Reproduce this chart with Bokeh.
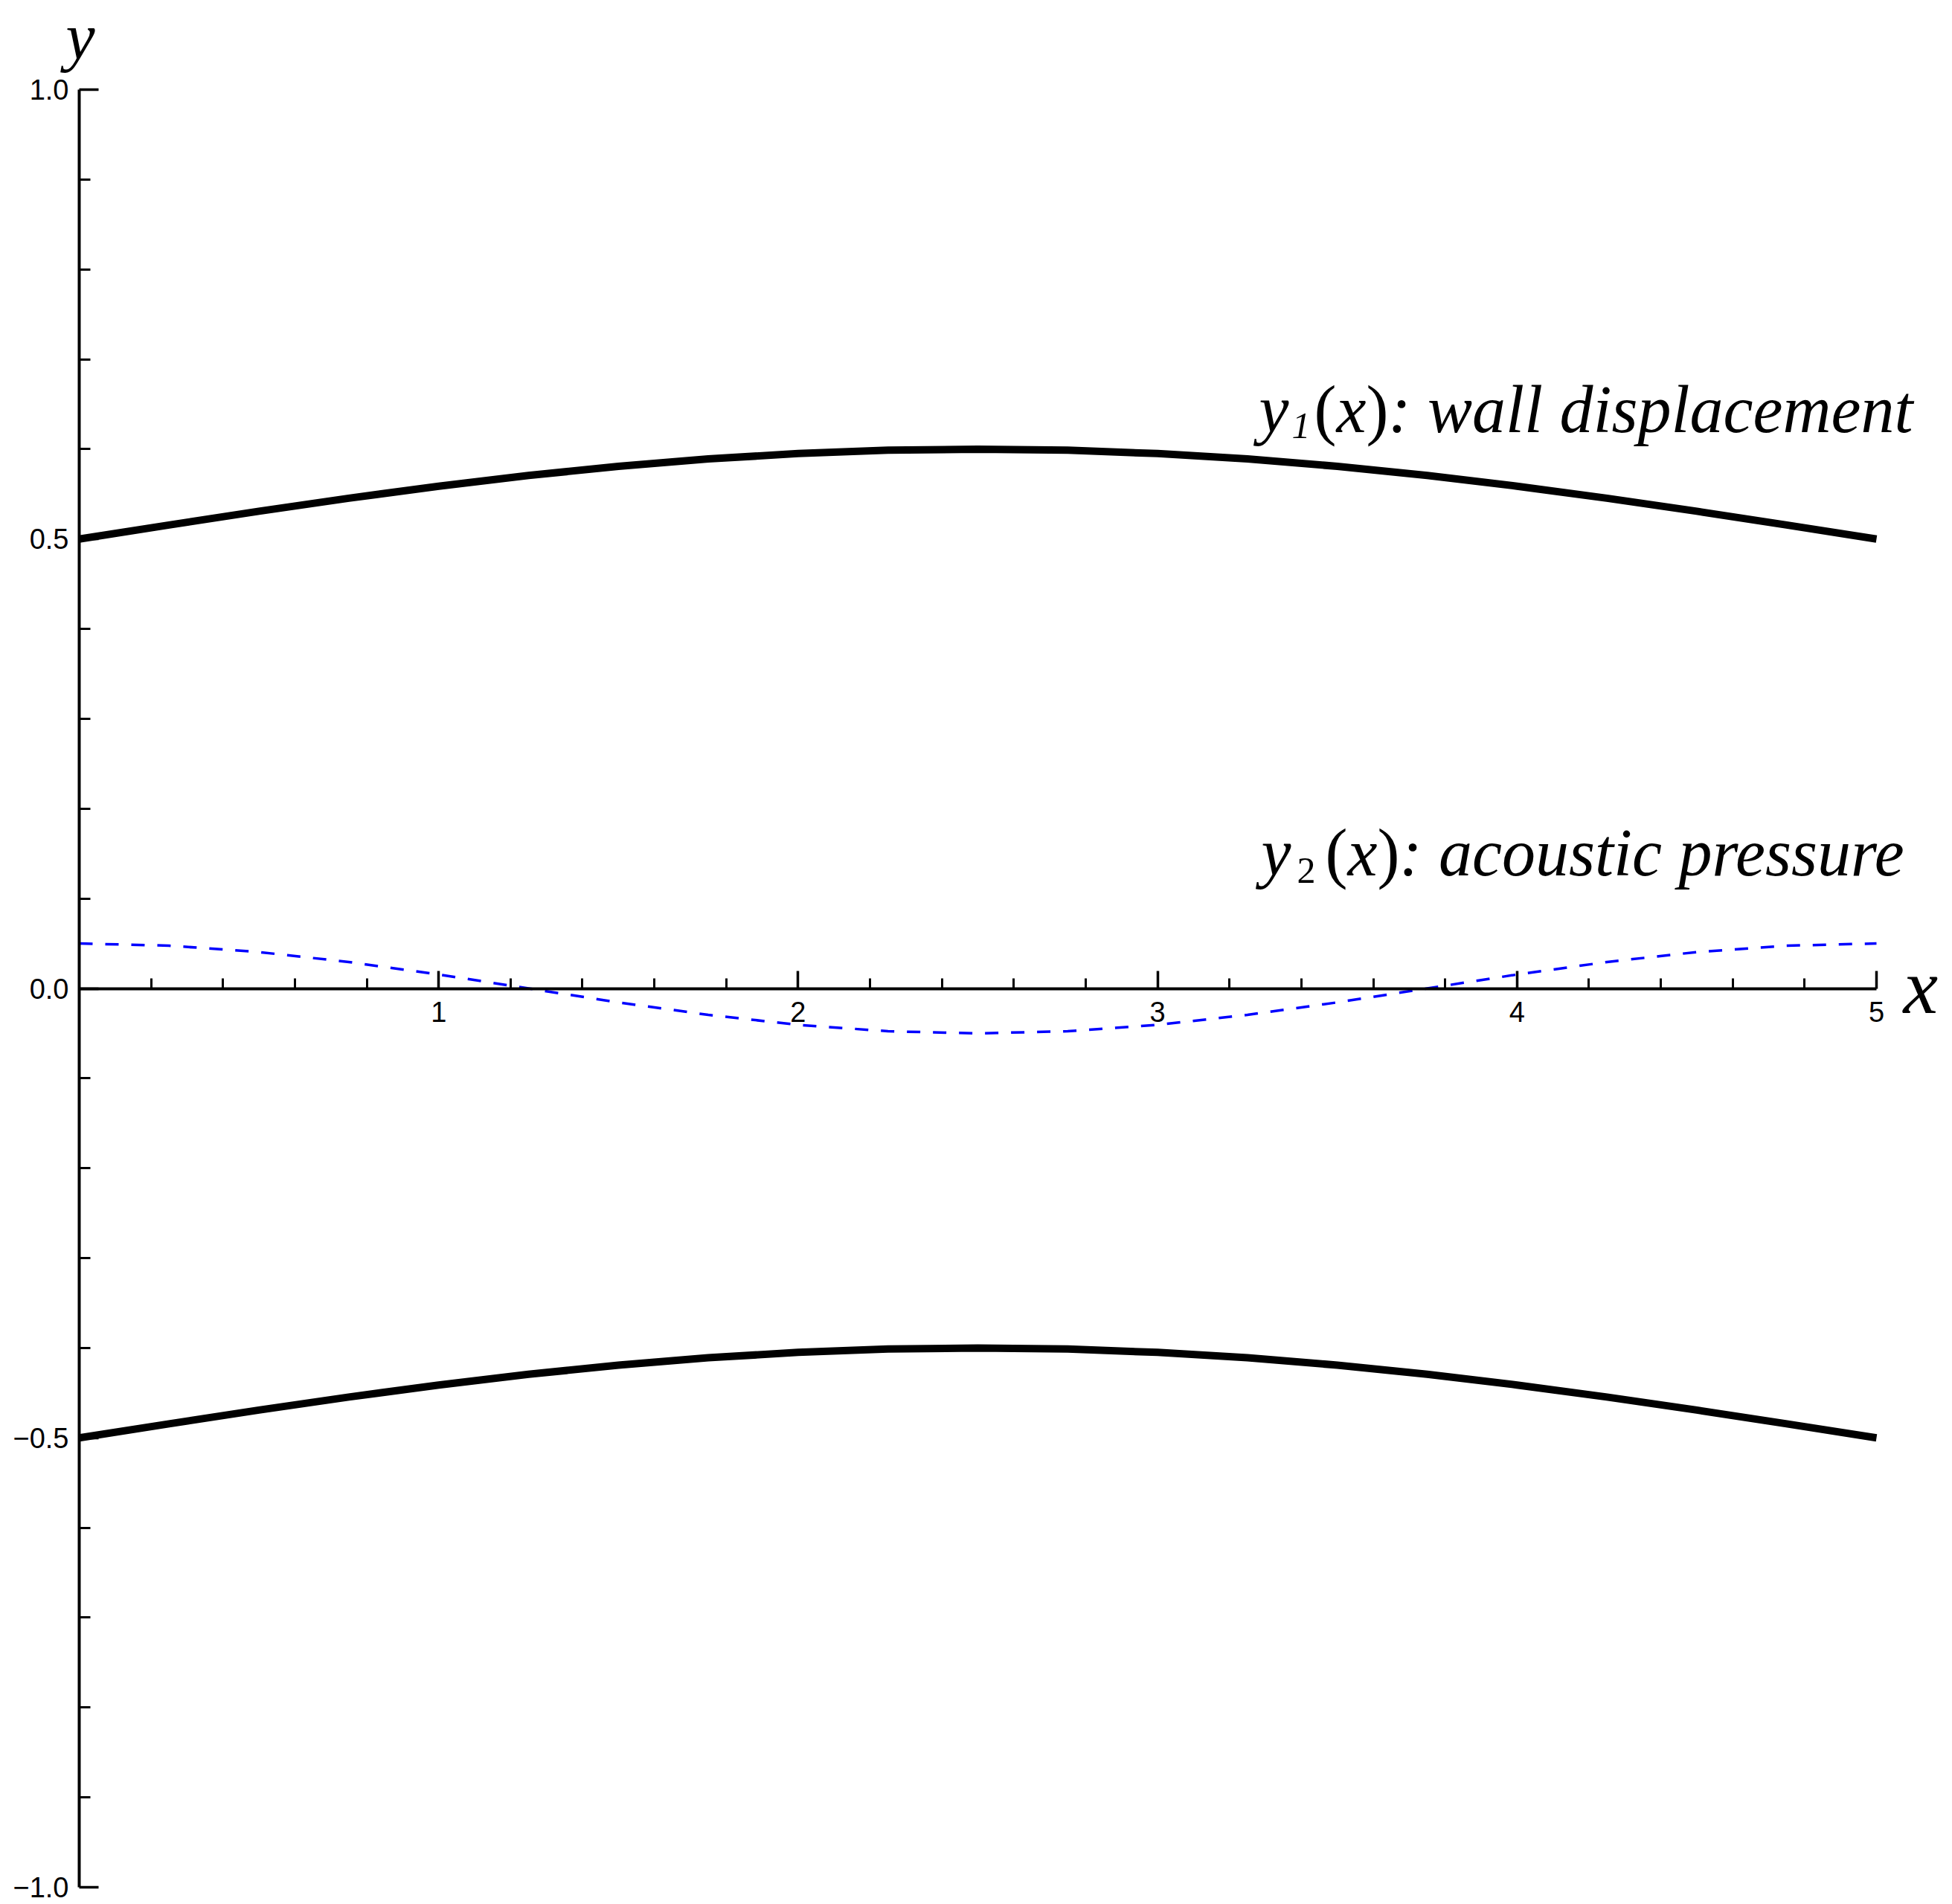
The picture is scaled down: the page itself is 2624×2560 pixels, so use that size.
from bokeh.plotting import figure
from bokeh.models import Range1d, LinearAxis, FixedTicker, Label, CustomJSTickFormatter
from bokeh.embed import file_html
from bokeh.resources import INLINE

# ---- data ----
x_vals = [0.0, 0.25, 0.5, 0.75, 1.0, 1.25, 1.5, 1.75, 2.0, 2.25, 2.5,
          2.75, 3.0, 3.25, 3.5, 3.75, 4.0, 4.25, 4.5, 4.75, 5.0]
wall_upper = [0.5000, 0.5156, 0.5309, 0.5454, 0.5588, 0.5707, 0.5809, 0.5891, 0.5951, 0.5988, 0.6000,
              0.5988, 0.5951, 0.5891, 0.5809, 0.5707, 0.5588, 0.5454, 0.5309, 0.5156, 0.5000]
wall_lower = [-0.5000, -0.4844, -0.4691, -0.4546, -0.4412, -0.4293, -0.4191, -0.4109, -0.4049, -0.4012, -0.4000,
              -0.4012, -0.4049, -0.4109, -0.4191, -0.4293, -0.4412, -0.4546, -0.4691, -0.4844, -0.5000]
pressure = [0.0500, 0.0476, 0.0405, 0.0294, 0.0155, 0.0000, -0.0155, -0.0294, -0.0405, -0.0476, -0.0500,
            -0.0476, -0.0405, -0.0294, -0.0155, 0.0000, 0.0155, 0.0294, 0.0405, 0.0476, 0.0500]

x_major_ticks = [1, 2, 3, 4, 5]
x_minor_ticks = [0.2, 0.4, 0.6, 0.8, 1.2, 1.4, 1.6, 1.8, 2.2, 2.4, 2.6, 2.8,
                 3.2, 3.4, 3.6, 3.8, 4.2, 4.4, 4.6, 4.8]
y_major_ticks = [-1.0, -0.5, 0.0, 0.5, 1.0]
y_minor_ticks = [-0.9, -0.8, -0.7, -0.6, -0.4, -0.3, -0.2, -0.1,
                 0.1, 0.2, 0.3, 0.4, 0.6, 0.7, 0.8, 0.9]

SERIF = "Liberation Serif"
SANS = "Liberation Sans"

p = figure(width=2616, height=2560,
           x_range=Range1d(-0.21937, 5.19454), y_range=Range1d(-1.01903, 1.09930),
           output_backend="svg", toolbar_location=None,
           x_axis_location=None, y_axis_location=None,
           min_border_left=0, min_border_right=0, min_border_top=0, min_border_bottom=0)
p.outline_line_color = None
p.background_fill_color = "white"
p.border_fill_color = "white"
p.grid.visible = False

AXIS_W = 4

yaxis = LinearAxis(
    ticker=FixedTicker(ticks=y_major_ticks, minor_ticks=y_minor_ticks),
    formatter=CustomJSTickFormatter(code="return tick.toFixed(1).replace('-', '\\u2212');"),
    fixed_location=0,
    bounds=(-1, 1),
)
yaxis.axis_line_width = AXIS_W
yaxis.major_tick_line_width = 3.5
yaxis.minor_tick_line_width = 3
yaxis.major_tick_in = 26
yaxis.major_tick_out = 0
yaxis.minor_tick_in = 15
yaxis.minor_tick_out = 0
yaxis.major_label_standoff = 14
yaxis.major_label_text_font = SANS
yaxis.major_label_text_font_size = "38px"
yaxis.major_label_text_color = "black"
p.add_layout(yaxis, "left")

xaxis = LinearAxis(
    ticker=FixedTicker(ticks=x_major_ticks, minor_ticks=x_minor_ticks),
    fixed_location=0,
    bounds=(0, 5),
)
xaxis.axis_line_width = AXIS_W
xaxis.major_tick_line_width = 3.5
xaxis.minor_tick_line_width = 3
xaxis.major_tick_in = 24
xaxis.major_tick_out = 0
xaxis.minor_tick_in = 14
xaxis.minor_tick_out = 0
xaxis.major_label_standoff = 18
xaxis.major_label_text_font = SANS
xaxis.major_label_text_font_size = "38px"
xaxis.major_label_text_color = "black"
p.add_layout(xaxis, "below")

# curves
p.line(x_vals, wall_upper, line_color="black", line_width=10, line_join="round")
p.line(x_vals, wall_lower, line_color="black", line_width=10, line_join="round")
p.line(x_vals, pressure, line_color="#0000ff", line_width=3.5, line_dash="18 17")

MAIN = 90
SUB = 50
BASE_FIX = 0.38  # fraction of font size to lift the label so that its baseline sits on the anchor


def piece(x, y, dx, text, style="italic", size=MAIN, dy=0):
    p.add_layout(Label(x=x, y=y, x_offset=dx, y_offset=dy + BASE_FIX * size, text=text,
                       text_font=SERIF, text_font_style=style, text_font_size=f"{size}px",
                       text_color="black", text_align="left", text_baseline="alphabetic"))


# y1(x): wall displacement
ax1, ay1 = 3.2823, 0.6161
piece(ax1, ay1, 0, "y")
piece(ax1, ay1, 44, "1", size=SUB, dy=-7)
piece(ax1, ay1, 74, "(", style="normal")
piece(ax1, ay1, 104, "x")
piece(ax1, ay1, 144, ")", style="normal")
piece(ax1, ay1, 174, ": wall displacement")

# y2(x): acoustic pressure
ax2, ay2 = 3.2885, 0.12288
piece(ax2, ay2, 0, "y")
piece(ax2, ay2, 48, "2", style="normal", size=SUB, dy=-9)
piece(ax2, ay2, 86, "(", style="normal")
piece(ax2, ay2, 116, "x")
piece(ax2, ay2, 156, ")", style="normal")
piece(ax2, ay2, 186, ": acoustic pressure")

# axis names
piece(5.0745, -0.03103, 0, "x", size=105)
piece(-0.03725, 1.03145, 0, "y", size=88)

open("out.html", "w").write(file_html(p, INLINE))
